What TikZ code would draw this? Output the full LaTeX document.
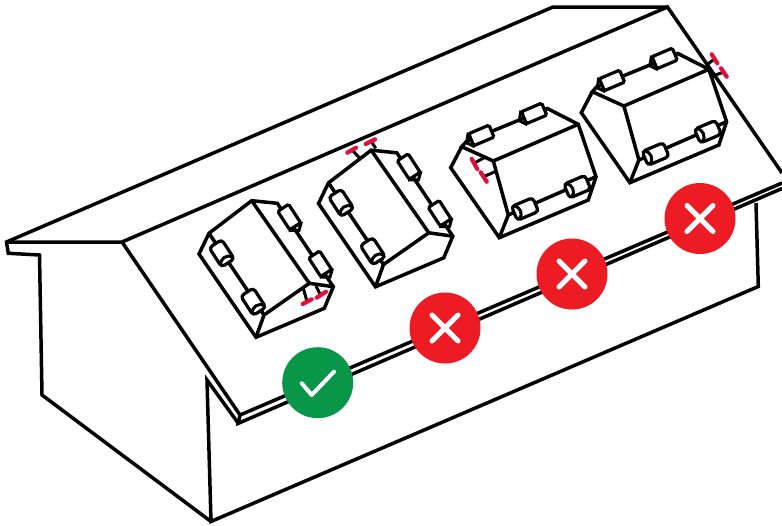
\documentclass[tikz,border=0pt]{standalone}
\definecolor{okgreen}{HTML}{0A9648}
\definecolor{badred}{HTML}{ED1C24}
\definecolor{mark}{HTML}{E0103C}
\tikzset{
  x=1pt,y=-1pt,
  ln/.style={line width=3.5pt,line join=miter,miter limit=6,draw=black},
  wheelbody/.style={ln,line width=3.2pt,fill=white,rounded corners=3.5pt},
  slimbody/.style={ln,line width=3.2pt,fill=white,rounded corners=1.5pt},
  wheelface/.style={line width=3pt,draw=black},
  stub/.style={line width=3pt,draw=black},
  reddash/.style={line width=4.2pt,draw=mark,line cap=round},
  badge/.style={circle,minimum size=71pt,inner sep=0pt,draw=none},
  glyph/.style={draw=white,line width=5pt,line cap=round,line join=round},
  pics/bigwheel/.style={code={
    \draw[wheelbody] (-11.5,-7.5) rectangle (11.5,7.5);
    \draw[wheelface] (9,-7.5) .. controls (3.5,-3.5) and (3.5,3.5) .. (9,7.5);
  }},
  pics/slimwheel/.style={code={
    \draw[slimbody] (-12.5,-6.5) rectangle (9.5,6.5);
    \draw[wheelface] (9,-7.8) -- (15,-1) -- (9.5,7.8);
  }},
}
% lengthwise roof unit, wheels on the slope side
\newcommand{\unitA}[2]{\begin{scope}[shift={(#1,#2)}]
  \coordinate (T) at (251.7,200.7);
  \coordinate (L) at (209,233.3);
  \coordinate (O) at (199,254);
  \coordinate (B) at (256,337.3);
  \coordinate (R) at (324.3,308.3);
  \coordinate (P) at (333.3,286.7);
  \coordinate (I) at (309.3,283.3);
  \coordinate (J) at (264,315);
  \coordinate (K) at (277.3,203.3);
  \draw[ln] (L) -- (T) -- (K) -- (P) -- (R) -- (B) -- (O) -- cycle;
  \draw[ln] (T) -- (I) -- (J) -- (B);
  \draw[ln] (I) -- (P);
  \draw[ln] (L) -- (J);
  \pic[rotate=-57] at (221.7,253.3) {bigwheel};
  \pic[rotate=-57] at (253.3,301.7) {bigwheel};
  \pic[rotate=-57] at (290,218.3) {slimwheel};
  \pic[rotate=-57] at (321,265) {slimwheel};
\end{scope}}
% crosswise roof unit
\newcommand{\unitB}[2]{\begin{scope}[shift={(#1,#2)}]
  \coordinate (A) at (461.7,146.7);
  \coordinate (O) at (450.7,167.7);
  \coordinate (B) at (499.3,237.7);
  \coordinate (R) at (588.3,200);
  \coordinate (P) at (596,176.7);
  \coordinate (U) at (578.3,124.3);
  \coordinate (K) at (547.3,108.5);
  \coordinate (I) at (493.3,161);
  \coordinate (J) at (508.3,215);
  \coordinate (H) at (466,141.9);
  \draw[ln] (A) -- (O) -- (B) -- (R) -- (P) -- (U) -- (K) -- (H) -- (A) -- (I) -- (U);
  \draw[ln] (I) -- (J) -- (B);
  \draw[ln] (J) -- (P);
  \pic[rotate=203] at (525,209) {bigwheel};
  \pic[rotate=203] at (577.3,186.7) {bigwheel};
  \pic[rotate=203] at (480,136) {slimwheel};
  \pic[rotate=203] at (532.7,114) {slimwheel};
\end{scope}}
\begin{document}
\begin{tikzpicture}
\useasboundingbox (0,0) rectangle (782,525);
% house
\coordinate (ridgeL) at (553,7);
\coordinate (ridgeR) at (667.5,7);
\coordinate (tipL) at (6.5,242);
\coordinate (peak) at (122,242);
\coordinate (roofR) at (782,173);
\coordinate (eaveA) at (240,415);
\coordinate (eaveB) at (238.3,423.3);
\coordinate (eaveAR) at (782,183);
\coordinate (eaveBR) at (782,188.5);
\coordinate (wallT) at (207,380);
\coordinate (wallB) at (211,521.5);
\coordinate (wallR) at (758.3,286.5);
\coordinate (wallRT) at (756,203);
\draw[ln] (ridgeR) -- (ridgeL) -- (tipL) -- (8.3,253.3) -- (39.5,255) -- (42,395) -- (wallB);
\draw[ln] (tipL) -- (peak) -- (ridgeR) -- (roofR);
\draw[ln] (peak) -- (eaveA) -- (eaveAR);
\draw[ln] (eaveA) -- (eaveB) -- (eaveBR);
\draw[ln] (eaveB) -- (wallT) -- (wallB) -- (wallR) -- (wallRT);
% mounted units
\unitA{0}{0}
\unitA{119.5}{-50.5}
\unitB{0}{0}
\unitB{130.6}{-55}
% clearance marks, unit 1
\draw[stub] (303.3,288.3) -- (307,301.5);
\draw[stub] (316,286) -- (320.5,295);
\draw[reddash] (302.7,304) -- (311.7,299.3);
\draw[reddash] (316.7,297.7) -- (326,291.7);
% unit 2
\draw[stub] (360,158.3) -- (352,150);
\draw[stub] (375.7,148.3) -- (371.7,142);
\draw[reddash] (347.3,152.7) -- (356,147.7);
\draw[reddash] (365.7,144) -- (375,139.3);
% unit 3
\draw[stub] (475,162.7) -- (486,156.7);
\draw[stub] (484,176.5) -- (495,171.7);
\draw[reddash] (471.7,159) -- (477.3,169);
\draw[reddash] (480.7,172.3) -- (486.7,181.7);
% unit 4
\draw[stub] (706.7,65) -- (714.3,59);
\draw[stub] (712.7,76) -- (723.3,72.3);
\draw[reddash] (711.7,54.3) -- (717.3,63.3);
\draw[reddash] (721,68.3) -- (726.7,76.7);
% badges
\node[badge,fill=okgreen] (ok) at (317.7,382.7) {};
\node[badge,fill=badred] (no1) at (445,328) {};
\node[badge,fill=badred] (no2) at (572,274) {};
\node[badge,fill=badred] (no3) at (700,218.5) {};
\draw[glyph,line width=4pt] (301.7,383.3) -- (311.7,395) -- (334,371.7);
\foreach \c in {no1,no2,no3}{
  \draw[glyph] ([shift={(-13,-13)}]\c.center) -- ([shift={(13,13)}]\c.center);
  \draw[glyph] ([shift={(-13,13)}]\c.center) -- ([shift={(13,-13)}]\c.center);
}
\end{tikzpicture}
\end{document}
